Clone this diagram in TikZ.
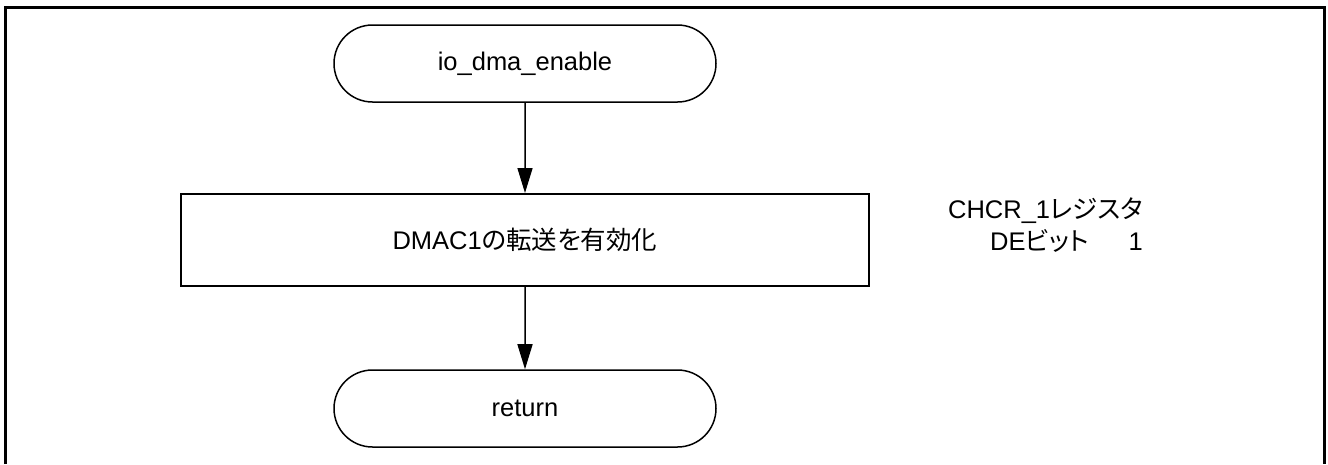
\documentclass[tikz,border=0pt]{standalone}
\usepackage{fontspec}
\setmainfont{Liberation Sans}
\newfontfamily\cjk[RawFeature=+palt]{Noto Sans CJK JP}
\usetikzlibrary{arrows.meta,shapes.misc}
\tikzset{
  frameline/.style={line width=3pt},
  term/.style={draw, line width=1.5pt, rounded rectangle, rounded rectangle arc length=180,
    minimum width=382pt, minimum height=77pt, inner sep=0pt},
  procbox/.style={draw, line width=2pt, rectangle, minimum width=688pt, minimum height=92pt, inner sep=0pt},
  flow/.style={line width=1.5pt, -{Triangle[length=25pt,width=15pt]}},
  note/.style={inner sep=0pt, anchor=base east}
}
\begin{document}
\begin{tikzpicture}[x=1pt,y=-1pt,font=\fontsize{25.5}{32}\selectfont]
\useasboundingbox (0,0) rectangle (1328,464);
\draw[frameline] (5,464) -- (5,7) -- (1324,7) -- (1324,464);
\node[term] (start) at (525,63.5) {io\_dma\_enable};
\node[procbox] (proc) at (525,240) {DMAC1{\cjk の転送を有効化}};
\node[term] (ret) at (525,408.5) {return};
\draw[flow] (start) -- (proc);
\draw[flow] (proc) -- (ret);
\node[note] (n1) at (1143,218) {CHCR\_1{\cjk レジスタ}};
\node[note] (n2) at (1143,250) {DE{\cjk ビット}\hspace{40pt}1};
\end{tikzpicture}
\end{document}
